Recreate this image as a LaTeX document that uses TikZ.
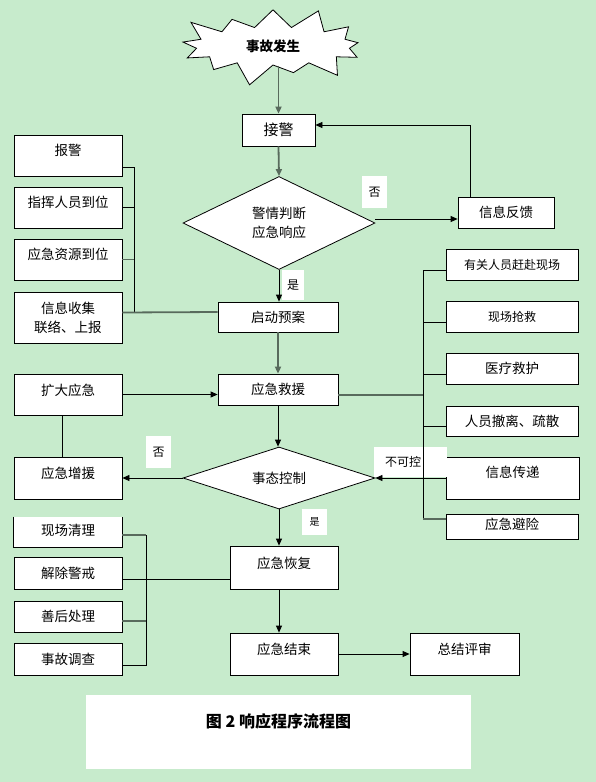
\documentclass[tikz,border=0pt]{standalone}
\usepackage{fontspec}
\setmainfont{Noto Sans CJK SC}
\usetikzlibrary{arrows.meta,shapes.geometric,shapes.symbols}
\definecolor{bggreen}{RGB}{199,235,204}
\definecolor{lineg}{RGB}{88,106,92}
\newcommand{\fz}[1]{\fontsize{#1}{19}\selectfont}
\tikzset{box/.style={draw=black, fill=white, inner sep=0pt, align=center, font=\fz{13.5}},
  lbl/.style={fill=white, inner sep=0pt, font=\fz{12}},
  arr/.style={-{Triangle[length=7pt,width=6pt]}},
  gl/.style={draw=lineg, line width=1.8pt}}

\begin{document}
\begin{tikzpicture}[x=1pt, y=-1pt, line width=0.8pt]
\fill[bggreen] (0,0) rectangle (596,782);
\node[starburst, draw, fill=white, minimum width=202pt, minimum height=86pt, starburst points=13,
      starburst point height=24pt, inner sep=0pt, font=\bfseries\fz{13.5}] (sgfs) at (273,46) {事故发生};
\node[box, minimum width=73pt, minimum height=32pt, font=\fz{15}] (jj) at (278.5,130) {接警};
\node[box, diamond, aspect=2, minimum width=192pt, minimum height=93pt] (pd) at (279,223) {警情判断\\应急响应};
\node[box, minimum width=96pt, minimum height=31pt] (fk) at (506,212.5) {信息反馈};
\node[box, minimum width=120pt, minimum height=30pt] (qd) at (278,317) {启动预案};
\node[box, minimum width=108pt, text height=20pt, text depth=21pt] (bj) at (68,155.5) {报警};
\node[box, minimum width=108pt, text height=20pt, text depth=21pt] (zh) at (68,207.5) {指挥人员到位};
\node[box, minimum width=108pt, text height=20pt, text depth=21pt] (zy) at (68,259.5) {应急资源到位};
\node[box, minimum width=108pt, minimum height=51pt] (sj) at (68,317.5) {信息收集\\联络、上报};
\node[box, minimum width=120pt, minimum height=31pt] (jy) at (278,389.5) {应急救援};
\node[box, minimum width=108pt, text height=21pt, text depth=20pt] (kd) at (68,394.5) {扩大应急};
\node[box, minimum width=108pt, text height=21pt, text depth=21pt] (zy2) at (68,478) {应急增援};
\node[box, diamond, aspect=3, minimum width=192pt, minimum height=62pt] (kz) at (279,478) {事态控制};
\node[box, minimum width=132pt, minimum height=31pt, font=\fz{12}] (gr) at (512,264.5) {有关人员赶赴现场};
\node[box, minimum width=132pt, minimum height=31pt, font=\fz{12}] (qj) at (512,316.5) {现场抢救};
\node[box, minimum width=132pt, minimum height=31pt] (yl) at (512,368.5) {医疗救护};
\node[box, minimum width=132pt, minimum height=30pt] (cl) at (512,421) {人员撤离、疏散};
\node[box, minimum width=133pt, text height=20pt, text depth=22pt] (cd) at (512.5,478) {信息传递};
\node[box, minimum width=132pt, text height=15pt, text depth=10pt] (bx) at (512,526.5) {应急避险};
\node[box, minimum width=108pt, text height=22pt, text depth=21pt] (hf) at (284,567.5) {应急恢复};
\node[box, minimum width=108pt, text height=21pt, text depth=21pt] (js) at (284,654) {应急结束};
\node[box, minimum width=109pt, text height=21pt, text depth=21pt] (ps) at (464.5,654) {总结评审};
\node[box, draw=none, minimum width=108pt, text height=18pt, text depth=12pt] (ql) at (68,532) {现场清理};
\draw (ql.north west) -- (ql.south west) -- (ql.south east) -- (ql.north east);
\node[box, minimum width=108pt, minimum height=32pt] (jc) at (68,573) {解除警戒};
\node[box, minimum width=108pt, minimum height=31pt] (sh) at (68,616.5) {善后处理};
\node[box, minimum width=108pt, minimum height=32pt] (dc) at (68,659) {事故调查};
\node[lbl, minimum width=25pt, minimum height=32pt] (f1) at (374.5,192) {否};
\node[lbl, minimum width=22pt, minimum height=30pt] (s1) at (293,285) {是};
\node[lbl, minimum width=25pt, minimum height=32pt] (f2) at (158.5,452) {否};
\node[lbl, text width=51pt, inner xsep=11pt, minimum height=30pt, align=left] (bk) at (410.5,462) {不可控};
\node[lbl, minimum width=25pt, minimum height=26pt, font=\fz{10}] (s2) at (314.5,522) {是};
\node[fill=white, minimum width=385pt, inner sep=0pt, text height=32pt, text depth=42pt,
      font=\bfseries\fz{16}] (cap) at (278.5,732) {图 2 响应程序流程图};
\coordinate (lb) at (134,312);
\coordinate (rb) at (423,519);
\coordinate (lbt) at (146,535);
\draw[gl, arr] (jj.north |- sgfs.south) -- (jj.north);
\draw[gl, arr] (jj.south) -- (pd.north);
\draw[arr] ([yshift=4pt]pd.east) -- ([yshift=4pt]pd.east -| fk.west);
\draw[arr] ([xshift=-36pt]fk.north) |- ([yshift=5pt]jj.east);
\draw[arr] (pd.south) -- (pd.south |- qd.north);
\draw ([yshift=-11.5pt]bj.east) -| (lb);
\draw (zh.east) -- (zh.east -| lb);
\draw[gl] (zy.east) -- (zy.east -| lb);
\draw[gl] ([yshift=5pt]sj.east) -- ([yshift=5pt]qd.west);
\draw[gl, arr] (qd.south) -- (jy.north);
\draw[arr] (kd.east) -- (kd.east -| jy.west);
\draw ([xshift=-6pt]kd.south) -- ([xshift=-6pt]zy2.north);
\draw[arr] (jy.south) -- (jy.south |- kz.north);
\draw[arr] (kz.west) -- (zy2.east);
\draw[gl] ([yshift=-5.5pt]jy.east) -- ([yshift=-5.5pt]jy.east -| rb);
\draw ([yshift=-5.5pt]gr.west) -| (rb);
\draw ([yshift=-5.5pt]qj.west) -- ([yshift=-5.5pt]qj.west -| rb);
\draw ([yshift=-5.5pt]yl.west) -- ([yshift=-5.5pt]yl.west -| rb);
\draw ([yshift=-5pt]cl.west) -- ([yshift=-5pt]cl.west -| rb);
\draw[arr] (cd.west) -- (kz.east);
\draw[gl] (rb) -- ([yshift=7.5pt]bx.west);
\draw[arr] (kz.south) -- (kz.south |- hf.north);
\draw[arr] ([xshift=-5pt]hf.south) -- ([xshift=-5pt]js.north);
\draw ([yshift=-6pt]dc.east) -| (lbt);
\draw[gl] ([yshift=-3pt]ql.east) -- (lbt);
\draw[gl] ([yshift=-4.5pt]sh.east) -- ([yshift=-4.5pt]sh.east -| lbt);
\draw ([yshift=-6pt]jc.east) -- ([yshift=-6pt]jc.east -| hf.west);
\draw[arr] (js.east) -- (ps.west);
\end{tikzpicture}
\end{document}
